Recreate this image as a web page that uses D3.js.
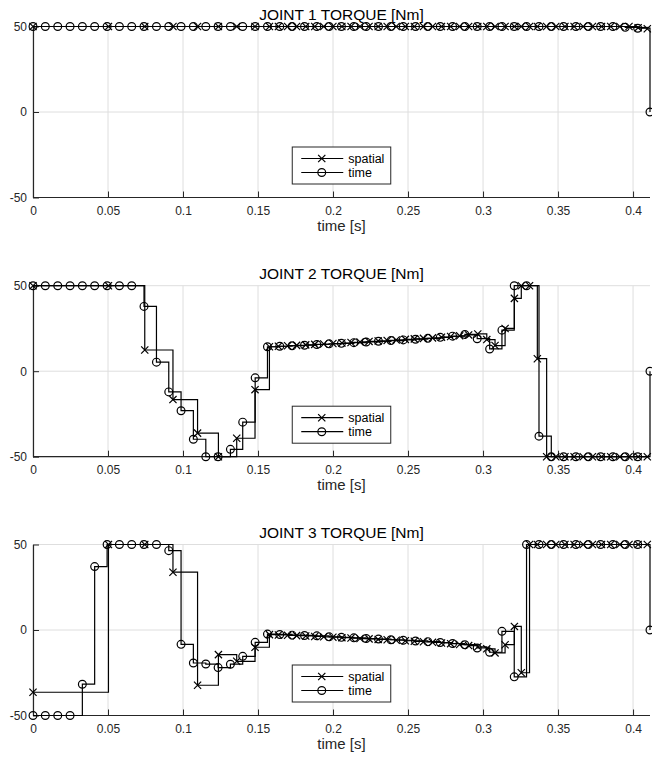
<!DOCTYPE html>
<html><head><meta charset="utf-8">
<script src="https://cdn.jsdelivr.net/npm/d3@7"></script>
<style>body{margin:0;background:#fff}svg{display:block}</style>
</head><body>
<script>
// time-discretised sample times [s]
const timeT = [0, 0.0082, 0.0165, 0.0247, 0.0329, 0.0411, 0.0494, 0.0576, 0.0658, 0.0740,
  0.0823, 0.0905, 0.0987, 0.1069, 0.1152, 0.1234, 0.1316, 0.1398, 0.1481, 0.1563,
  0.1645, 0.1727, 0.1810, 0.1892, 0.1974, 0.2056, 0.2139, 0.2221, 0.2303, 0.2386,
  0.2468, 0.2550, 0.2632, 0.2715, 0.2797, 0.2879, 0.2961, 0.3044, 0.3126, 0.3208,
  0.3290, 0.3373, 0.3455, 0.3537, 0.3619, 0.3702, 0.3784, 0.3866, 0.3948, 0.4031, 0.4113];
// spatially-discretised sample times [s]
const spatialT = [0, 0.0503, 0.0745, 0.0933, 0.1097, 0.1236, 0.1358, 0.1480, 0.1576,
  0.1636, 0.1697, 0.1757, 0.1818, 0.1878, 0.1938, 0.1999, 0.2059, 0.2120, 0.2180,
  0.2240, 0.2301, 0.2361, 0.2421, 0.2482, 0.2542, 0.2603, 0.2663, 0.2723, 0.2784,
  0.2844, 0.2904, 0.2965, 0.3025,
  0.3080, 0.3147, 0.3209, 0.3255, 0.3310, 0.3362, 0.3424,
  0.3485, 0.3546, 0.3607, 0.3668, 0.3729, 0.3790, 0.3851, 0.3912, 0.3973, 0.4034, 0.4095];

const joint1Time = [50,50,50,50,50,50,50,50,50,50, 50,50,50,50,50,50,50,50,50,50,
  50,50,50,50,50,50,50,50,50,50, 50,50,50,50,50,50,50,50,50,50,
  50,50,50,50,50,50,50,50,49.5,49,0];
const joint1Spatial = [50,50,50,50,50,50,50,50,50, 50,50,50,50,50,50,50,50,50,50,
  50,50,50,50,50,50,50,50,50,50, 50,50,50,50, 50,50,50,50,50,50,50,
  50,50,50,50,50,50,50,50,50,49.3,48.7];

const joint2Time = [50,50,50,50,50,50,50,50,50, 37.9, 5.3, -12.1, -23.1, -39.8, -50, -50, -45.7, -29.8, -3.9,
  14.3, 14.6, 14.9, 15.2, 15.6, 16.0, 16.3, 16.7, 17.1, 17.5, 17.9, 18.3, 18.7, 19.2, 19.8, 20.5, 21.5,
  19.0, 13.0, 24.0, 50, 50, -38, -50, -50, -50, -50, -50, -50, -50, -50, 0];
const joint2Spatial = [50, 50, 12.4, -16.6, -36.2, -50, -39.2, -10.8, 14.3,
  14.6, 14.9, 15.1, 15.4, 15.7, 15.9, 16.2, 16.5, 16.8, 17.1, 17.4, 17.7, 18.0, 18.3,
  18.6, 18.9, 19.2, 19.5, 19.9, 20.3, 20.7, 21.2, 21.8, 18.5,
  15, 25, 42.6, 50, 50, 7.3, -50,
  -50, -50, -50, -50, -50, -50, -50, -50, -50, -50, -50];

const joint3Time = [-50, -50, -50, -50, -31.7, 37.1, 50, 50, 50, 50, 50, 46.4, -8.4, -19.3, -19.9, -22, -20, -15.4, -7.2, -2.4,
  -2.6, -3.0, -3.2, -3.4, -4.0, -4.3, -4.6, -5.0, -5.3, -5.7, -6.0, -6.4, -6.8, -7.3, -7.9, -8.6,
  -10.5, -13.0, -0.8, -27.4, 50, 50, 50, 50, 50, 50, 50, 50, 50, 50, 0];
const joint3Spatial = [-36.4, 50, 50, 33.8, -32.3, -14.4, -18.3, -10.1, -2.7,
  -2.9, -3.1, -3.3, -3.5, -3.8, -4.0, -4.2, -4.5, -4.7, -5.0, -5.2, -5.5, -5.7, -6.0,
  -6.3, -6.6, -6.9, -7.2, -7.6, -8.0, -8.5, -9.1, -9.8, -11.0,
  -13.4, -8.6, 2.1, -25, 50, 50, 50,
  50, 50, 50, 50, 50, 50, 50, 50, 50, 50, 50];

const titles = ["JOINT 1 TORQUE [Nm]", "JOINT 2 TORQUE [Nm]", "JOINT 3 TORQUE [Nm]"];
const xTicks = [0, 0.05, 0.1, 0.15, 0.2, 0.25, 0.3, 0.35, 0.4];
const xTickLabels = ["0", "0.05", "0.1", "0.15", "0.2", "0.25", "0.3", "0.35", "0.4"];
const yTicks = [-50, 0, 50];
const yTickLabels = ["-50", "0", "50"];
const seriesNames = ["spatial", "time"];
const xLabel = "time [s]";

const panels = [
  {title: titles[0], spatial: joint1Spatial, time: joint1Time},
  {title: titles[1], spatial: joint2Spatial, time: joint2Time},
  {title: titles[2], spatial: joint3Spatial, time: joint3Time}
];

const W = 652, H = 757;
const left = 33, right = 650;
const tops = [26.5, 285.7, 544.5];
const ph = 171;
const ink = "#262626";
const font = "'Liberation Sans', Arial, Helvetica, sans-serif";

const svg = d3.select("body").append("svg").attr("width", W).attr("height", H)
  .style("font-family", font);

const x = d3.scaleLinear().domain([0, 0.4113]).range([left, right]);

function xMark(g, px, py, s) {
  g.append("path").attr("d", `M${px-s},${py-s}L${px+s},${py+s}M${px-s},${py+s}L${px+s},${py-s}`)
    .attr("stroke", "#000").attr("stroke-width", 1.2).attr("fill", "none");
}
function oMark(g, px, py, r) {
  g.append("circle").attr("cx", px).attr("cy", py).attr("r", r)
    .attr("stroke", "#000").attr("stroke-width", 1.2).attr("fill", "none");
}

panels.forEach((p, i) => {
  const top = tops[i], bottom = top + ph;
  const y = d3.scaleLinear().domain([-50, 50]).range([bottom, top]);
  const g = svg.append("g");

  // grid
  g.selectAll(".gx").data(xTicks).enter().append("line")
    .attr("x1", d => x(d)).attr("x2", d => x(d)).attr("y1", top).attr("y2", bottom)
    .attr("stroke", "#dedede").attr("stroke-width", 1);
  g.selectAll(".gy").data(yTicks).enter().append("line")
    .attr("x1", left).attr("x2", right).attr("y1", d => y(d)).attr("y2", d => y(d))
    .attr("stroke", "#dedede").attr("stroke-width", 1);

  // axes
  const xAxis = d3.axisBottom(x).tickValues(xTicks).tickFormat((d, k) => xTickLabels[k])
    .tickSizeInner(-6).tickSizeOuter(0).tickPadding(9);
  const gx = g.append("g").attr("transform", `translate(0,${bottom})`).call(xAxis);
  gx.select(".domain").attr("stroke", ink).attr("stroke-width", 1.2)
    .attr("d", `M${left},0H${right}`);
  gx.selectAll(".tick line").attr("stroke", ink);
  gx.selectAll(".tick text").attr("fill", ink).style("font-size", "12px")
    .style("font-family", font);

  const yAxis = d3.axisLeft(y).tickValues(yTicks).tickFormat((d, k) => yTickLabels[k])
    .tickSizeInner(-6).tickSizeOuter(0).tickPadding(6);
  const gy = g.append("g").attr("transform", `translate(${left},0)`).call(yAxis);
  gy.select(".domain").attr("stroke", ink).attr("stroke-width", 1.2);
  gy.selectAll(".tick line").attr("stroke", ink);
  gy.selectAll(".tick text").attr("fill", ink).style("font-size", "12px")
    .style("font-family", font);

  // title and label
  g.append("text").attr("x", (left + right) / 2).attr("y", top - 7)
    .attr("text-anchor", "middle").attr("fill", "#000").style("font-size", "15.5px").text(p.title);
  g.append("text").attr("x", (left + right) / 2).attr("y", bottom + 33)
    .attr("text-anchor", "middle").attr("fill", ink).style("font-size", "15px").text(xLabel);

  // series
  const line = d3.line().curve(d3.curveStepAfter);
  const sPts = spatialT.map((t, k) => [x(t), y(p.spatial[k])]);
  const tPts = timeT.map((t, k) => [x(t), y(p.time[k])]);
  g.append("path").attr("d", line(sPts)).attr("fill", "none").attr("stroke", "#000").attr("stroke-width", 1.2);
  g.append("path").attr("d", line(tPts)).attr("fill", "none").attr("stroke", "#000").attr("stroke-width", 1.2);
  sPts.forEach(pt => xMark(g, pt[0], pt[1], 3.6));
  tPts.forEach(pt => oMark(g, pt[0], pt[1], 3.9));

  // legend
  const lw = 98.5, lh = 37;
  const lx = (left + right) / 2 - lw / 2, ly = bottom - 13.5 - lh;
  const lg = g.append("g");
  lg.append("rect").attr("x", lx).attr("y", ly).attr("width", lw).attr("height", lh)
    .attr("fill", "#fff").attr("stroke", ink).attr("stroke-width", 1);
  seriesNames.forEach((name, k) => {
    const ry = ly + 11.5 + k * 14;
    lg.append("line").attr("x1", lx + 9).attr("x2", lx + 51).attr("y1", ry).attr("y2", ry)
      .attr("stroke", "#000").attr("stroke-width", 1.2);
    if (k === 0) xMark(lg, lx + 29.5, ry, 3.6); else oMark(lg, lx + 29.5, ry, 3.9);
    lg.append("text").attr("x", lx + 56).attr("y", ry + 4.3).attr("fill", "#000")
      .style("font-size", "12.5px").text(name);
  });
});
</script>
</body></html>
